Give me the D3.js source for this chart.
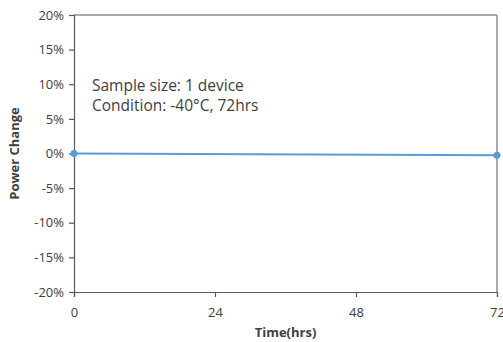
<!DOCTYPE html>
<html>
<head>
<meta charset="utf-8">
<script src="https://cdn.jsdelivr.net/npm/d3@7"></script>
<style>
  body { margin: 0; background: #fff; }
  text { font-family: "Open Sans", "Liberation Sans", sans-serif; fill: #404040; }
</style>
</head>
<body>
<div class="canvas"></div>
<script>
// data
const hours = [0, 72];
const powerChange = [0, -0.0025];
const xTicks = [0, 24, 48, 72];
const yTicks = [-0.2, -0.15, -0.1, -0.05, 0, 0.05, 0.1, 0.15, 0.2];
const notes = ['Sample size: 1 device', 'Condition: -40\u00B0C, 72hrs'];

// dimensions
const dims = { width: 503, height: 342 };
const margin = { top: 15, right: 6, bottom: 50, left: 74 };
const w = dims.width - margin.left - margin.right;
const h = dims.height - margin.top - margin.bottom;

const svg = d3.select('.canvas')
  .append('svg')
  .attr('width', dims.width)
  .attr('height', dims.height);

const graph = svg.append('g')
  .attr('transform', `translate(${margin.left}, ${margin.top})`);

// scales
const x = d3.scaleLinear().domain([0, 72]).range([0, w]);
const y = d3.scaleLinear().domain([-0.2, 0.2]).range([h, 0]);

// frame (top + right)
graph.append('line')
  .attr('x1', 0).attr('x2', w).attr('y1', 0).attr('y2', 0)
  .attr('stroke', '#595959').attr('stroke-width', 1.2);
graph.append('line')
  .attr('x1', w).attr('x2', w).attr('y1', 0).attr('y2', h)
  .attr('stroke', '#8c8c8c').attr('stroke-width', 1.5);

// axes
const yAxis = d3.axisLeft(y)
  .tickValues(yTicks)
  .tickSize(5)
  .tickPadding(5)
  .tickFormat(d3.format('.0%'));

const xAxis = d3.axisBottom(x)
  .tickValues(xTicks)
  .tickSize(5)
  .tickPadding(11);

const yG = graph.append('g').call(yAxis);
const xG = graph.append('g').attr('transform', `translate(0, ${h})`).call(xAxis);

[yG, xG].forEach(g => {
  g.select('.domain').attr('stroke', '#595959').attr('stroke-width', 1.2);
  g.selectAll('.tick line').attr('stroke', '#595959').attr('stroke-width', 1.2);
  g.selectAll('.tick text')
    .attr('font-family', '"Open Sans", sans-serif')
    .attr('font-size', 13)
    .attr('fill', '#404040');
});
yG.selectAll('.tick text').text(d => d3.format('.0%')(d).replace('\u2212', '-'));

// axis titles
svg.append('text')
  .attr('transform', `translate(19, ${margin.top + h / 2}) rotate(-90)`)
  .attr('text-anchor', 'middle')
  .attr('font-size', 13)
  .attr('font-weight', 'bold')
  .attr('fill', '#262626')
  .text('Power Change');

svg.append('text')
  .attr('x', margin.left + w / 2)
  .attr('y', 337)
  .attr('text-anchor', 'middle')
  .attr('font-size', 13)
  .attr('font-weight', 'bold')
  .attr('fill', '#262626')
  .text('Time(hrs)');

// annotation
svg.selectAll('.note')
  .data(notes)
  .enter()
  .append('text')
  .attr('class', 'note')
  .attr('x', 92)
  .attr('y', (d, i) => 91 + i * 20)
  .attr('font-size', 15.5)
  .attr('fill', '#262626')
  .text(d => d);

// series
const pts = hours.map((d, i) => ({ t: d, v: powerChange[i] }));

const line = d3.line()
  .x(d => x(d.t))
  .y(d => y(d.v));

graph.append('path')
  .datum(pts)
  .attr('fill', 'none')
  .attr('stroke', '#5b9bd5')
  .attr('stroke-width', 2)
  .attr('d', line);

graph.selectAll('circle')
  .data(pts)
  .enter()
  .append('circle')
  .attr('cx', d => x(d.t))
  .attr('cy', d => y(d.v))
  .attr('r', 3.5)
  .attr('fill', '#5b9bd5');
</script>
</body>
</html>
